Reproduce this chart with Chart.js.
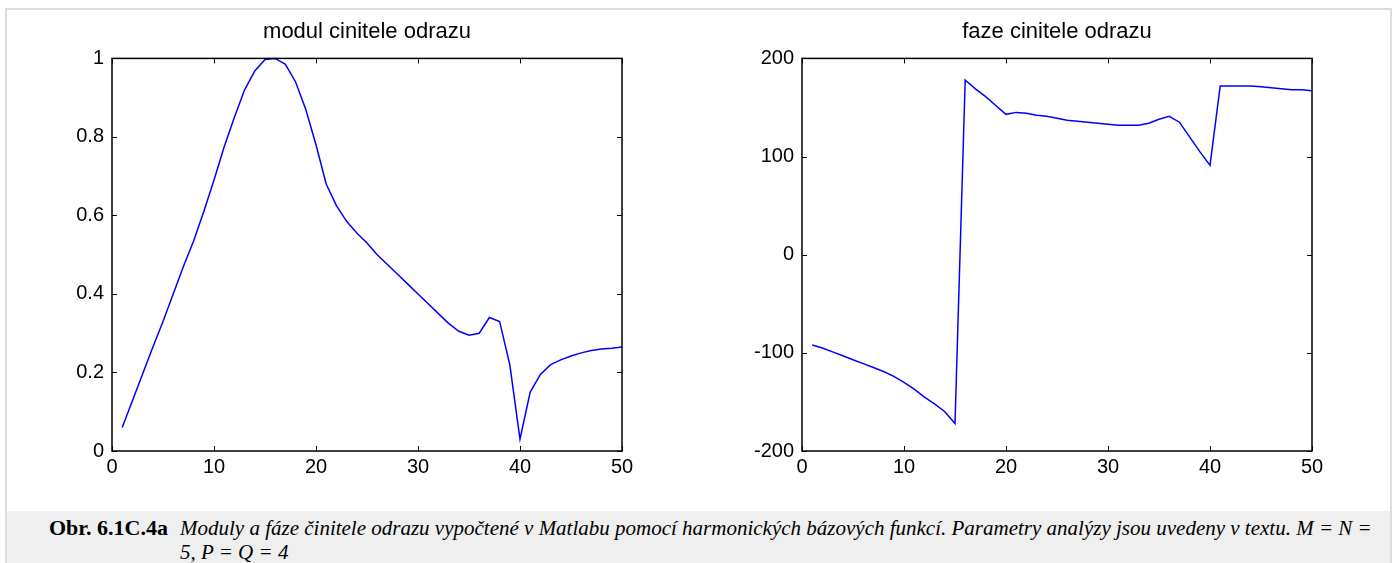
<!DOCTYPE html>
<html>
<head>
<meta charset="utf-8">
<script src="https://cdn.jsdelivr.net/npm/chart.js@4.4.1/dist/chart.umd.min.js"></script>
<style>
body { margin: 0; width: 1396px; height: 563px; overflow: hidden; position: relative; background: #fff; }
#ramec { position: absolute; left: 5px; top: 8px; width: 1383px; height: 570px; border: 2px solid #dcdcdc; }
#levy { position: absolute; left: 0; top: 0; }
#pravy { position: absolute; left: 690px; top: 0; }
#popis { position: absolute; left: 7px; top: 511px; width: 1383px; height: 60px; background: #efefef;
         font-family: "Liberation Serif", "Times New Roman", serif; font-size: 21px; color: #000; }
#popis b { position: absolute; left: 42px; top: 5px; white-space: nowrap; font-size: 22px; line-height: 24px; }
#popis i { position: absolute; left: 173px; top: 5px; line-height: 24px; white-space: nowrap; }
</style>
</head>
<body>
<div id="ramec"></div>
<canvas id="levy" width="734" height="500"></canvas>
<canvas id="pravy" width="734" height="500"></canvas>
<div id="popis">
  <b>Obr. 6.1C.4a</b>
  <i>Moduly a fáze činitele odrazu vypočtené v Matlabu pomocí harmonických bázových funkcí. Parametry analýzy jsou uvedeny v textu. M = N =<br>5, P = Q = 4</i>
</div>
<script>
// kmitočtové body (osa x)
const body = [1, 2, 3, 4, 5, 6, 7, 8, 9, 10, 11, 12, 13, 14, 15, 16, 17, 18, 19, 20,
              21, 22, 23, 24, 25, 26, 27, 28, 29, 30, 31, 32, 33, 34, 35, 36, 37, 38, 39, 40,
              41, 42, 43, 44, 45, 46, 47, 48, 49, 50];

// modul činitele odrazu
const modul = [0.06, 0.128, 0.196, 0.264, 0.33, 0.40, 0.47, 0.535, 0.61, 0.69,
               0.775, 0.85, 0.92, 0.968, 0.997, 1.0, 0.985, 0.94, 0.87, 0.78,
               0.68, 0.625, 0.585, 0.555, 0.53, 0.50, 0.475, 0.45, 0.425, 0.40,
               0.375, 0.35, 0.325, 0.305, 0.295, 0.30, 0.34, 0.33, 0.22, 0.03,
               0.15, 0.195, 0.22, 0.232, 0.242, 0.25, 0.256, 0.26, 0.262, 0.265];

// fáze činitele odrazu (stupně)
const faze = [-92, -95, -99, -103, -107, -111, -115, -119, -124, -130,
              -137, -145, -152, -160, -172, 178, 169, 161, 152, 143,
              145, 144, 142, 141, 139, 137, 136, 135, 134, 133,
              132, 132, 132, 134, 138, 141, 135, 120, 105, 91,
              172, 172, 172, 172, 171, 170, 169, 168, 168, 167];

// popisky os
const xTicky = [0, 10, 20, 30, 40, 50];
const yTickyModul = [0, 0.2, 0.4, 0.6, 0.8, 1];
const yTickyFaze = [-200, -100, 0, 100, 200];

const pismo = { family: '"Liberation Sans", Arial, sans-serif', size: 20 };

// rámeček a dovnitř otočené značky jako v Matlabu
const ramecek = {
    id: 'ramecek',
    afterDatasetsDraw(chart) {
        const { ctx, chartArea: a, scales: { x, y } } = chart;
        ctx.save();
        ctx.strokeStyle = '#000';
        ctx.lineWidth = 1;
        ctx.beginPath();
        x.ticks.forEach(t => {
            const px = Math.round(x.getPixelForValue(t.value)) + 0.5;
            ctx.moveTo(px, a.bottom); ctx.lineTo(px, a.bottom - 5);
            ctx.moveTo(px, a.top); ctx.lineTo(px, a.top + 5);
        });
        y.ticks.forEach(t => {
            const py = Math.round(y.getPixelForValue(t.value)) + 0.5;
            ctx.moveTo(a.left, py); ctx.lineTo(a.left + 5, py);
            ctx.moveTo(a.right, py); ctx.lineTo(a.right - 5, py);
        });
        ctx.stroke();
        ctx.lineWidth = 1.5;
        ctx.strokeRect(a.left, a.top, a.right - a.left, a.bottom - a.top);
        ctx.restore();
    }
};

function vytvorGraf(id, titulek, hodnoty, yMin, yMax, yTicky) {
    return new Chart(document.getElementById(id), {
        type: 'line',
        data: {
            datasets: [{
                data: body.map((b, i) => ({ x: b, y: hodnoty[i] })),
                borderColor: '#0000ff',
                borderWidth: 1.5,
                pointRadius: 0,
                tension: 0,
                clip: 4
            }]
        },
        options: {
            responsive: false,
            animation: false,
            layout: { padding: 0 },
            plugins: {
                legend: { display: false },
                tooltip: { enabled: false },
                title: {
                    display: true,
                    text: titulek,
                    color: '#000',
                    font: { family: pismo.family, size: 22, weight: 'normal' },
                    padding: { top: 19, bottom: 13 }
                }
            },
            scales: {
                x: {
                    type: 'linear',
                    min: 0, max: 50,
                    afterBuildTicks: s => { s.ticks = xTicky.map(v => ({ value: v })); },
                    afterFit: s => { s.height = 49; },
                    grid: { display: false, drawTicks: false },
                    border: { display: false },
                    ticks: { color: '#000', font: pismo, padding: 4, maxRotation: 0,
                             callback: v => String(v) }
                },
                y: {
                    type: 'linear',
                    min: yMin, max: yMax,
                    afterBuildTicks: s => { s.ticks = yTicky.map(v => ({ value: v })); },
                    afterFit: s => { s.width = 112; },
                    grid: { display: false, drawTicks: false },
                    border: { display: false },
                    ticks: { color: '#000', font: pismo, padding: 8,
                             callback: v => String(v) }
                },
                // prázdná pravá osa, aby byl titulek vystředěn nad grafem
                vpravo: {
                    type: 'linear',
                    position: 'right',
                    min: yMin, max: yMax,
                    afterFit: s => { s.width = 112; },
                    grid: { display: false, drawTicks: false },
                    border: { display: false },
                    ticks: { display: false }
                }
            }
        },
        plugins: [ramecek]
    });
}

vytvorGraf('levy', 'modul cinitele odrazu', modul, 0, 1, yTickyModul);
vytvorGraf('pravy', 'faze cinitele odrazu', faze, -200, 200, yTickyFaze);
</script>
</body>
</html>
